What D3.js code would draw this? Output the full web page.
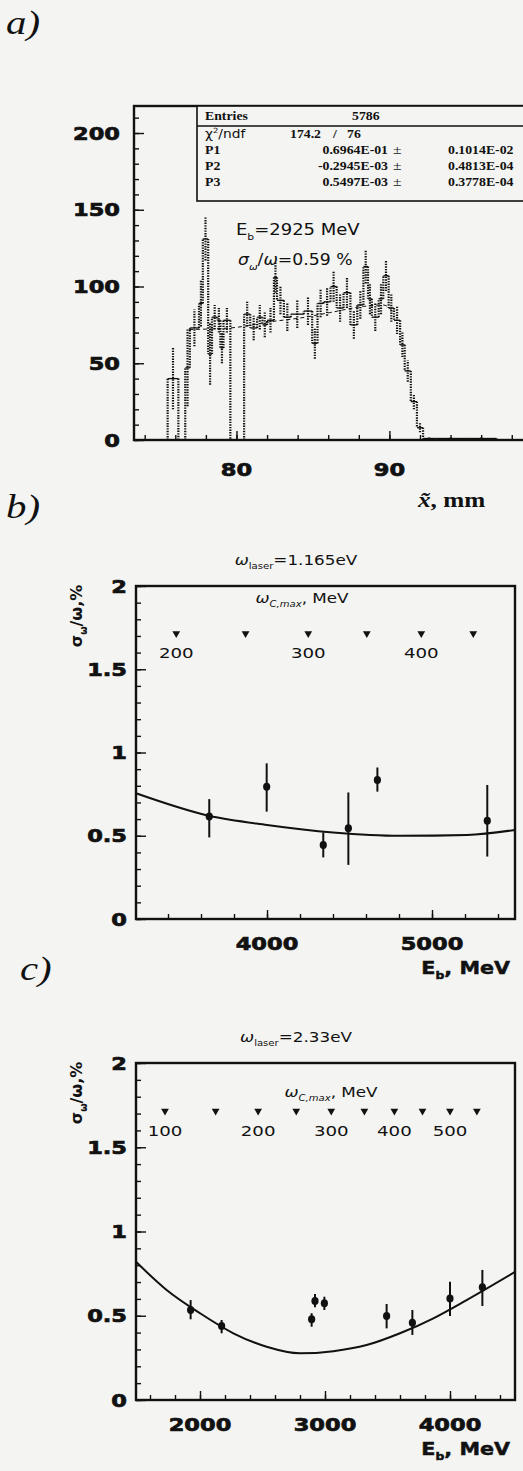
<!DOCTYPE html>
<html>
<head>
<meta charset="utf-8">
<script src="https://cdn.jsdelivr.net/npm/d3@7"></script>
<style>
  body { margin: 0; background: #f4f4f2; }
</style>
</head>
<body>
<div id="chart"></div>
<script>
// ---- panel a: x~ distribution of scattered photons ----
const histEdges = [75.5, 76.2, 76.65, 76.95, 77.55, 77.8, 78.15, 78.4, 78.75, 78.95, 79.15, 79.6,
  80.5, 80.9, 81.35, 81.7, 82.0, 82.45, 82.65, 83.1, 83.55, 84.4, 84.95, 85.3, 85.7, 86.15,
  86.55, 87.0, 87.45, 87.9, 88.3, 88.6, 88.85, 89.3, 89.6, 89.95, 90.3, 90.7, 91.0, 91.4,
  91.8, 92.2, 93, 95, 97, 98.2];
const histCounts = [40, 0, 47, 73, 89, 131, 56, 80, 78, 60, 78, 0, 82, 73, 80, 75, 78, 106, 91, 80,
  82, 84, 63, 89, 90, 100, 86, 96, 75, 88, 113, 92, 80, 92, 107, 86, 78, 62, 45, 25, 8, 1, 1, 1, 0];
const histErrors = [20, 0, 25, 12, 15, 14, 20, 8, 8, 10, 8, 0, 8, 8, 8, 8, 8, 10, 9, 9,
  9, 9, 10, 9, 9, 10, 9, 10, 9, 9, 11, 10, 9, 10, 10, 9, 9, 8, 7, 5, 3, 1, 1, 1, 0];
const fitA = [[76.9, 72], [79.6, 73], [82.2, 77], [84.5, 80], [86.1, 83], [88.3, 87], [89.6, 88], [90.2, 84]];
const xTicksA = [80, 90];
const yTicksA = [0, 50, 100, 150, 200];
const statsRows = [
  ["P1", "0.6964E-01", "0.1014E-02"],
  ["P2", "-0.2945E-03", "0.4813E-04"],
  ["P3", "0.5497E-03", "0.3778E-04"]
];

// ---- panel b: omega_laser = 1.165 eV ----
const ebB = [3650, 3998, 4341, 4493, 4669, 5335];
const sigB = [0.615, 0.795, 0.445, 0.545, 0.835, 0.59];
const loB = [0.49, 0.645, 0.37, 0.325, 0.765, 0.375];
const hiB = [0.72, 0.935, 0.52, 0.76, 0.91, 0.805];
const curveB = [[3206, 0.755], [3648, 0.62], [4000, 0.565], [4400, 0.52], [4806, 0.50], [5212, 0.505], [5503, 0.535]];
const wmaxB = [3450, 3870, 4250, 4605, 4935, 5250];
const wmaxLabelsB = ["200", "", "300", "", "400", ""];
const xTicksB = [4000, 5000];

// ---- panel c: omega_laser = 2.33 eV ----
const ebC = [1925, 2173, 2893, 2920, 2995, 3493, 3699, 4000, 4259];
const sigC = [0.534, 0.439, 0.479, 0.588, 0.574, 0.498, 0.459, 0.603, 0.669];
const loC = [0.479, 0.396, 0.435, 0.55, 0.534, 0.425, 0.386, 0.498, 0.558];
const hiC = [0.593, 0.475, 0.515, 0.629, 0.613, 0.57, 0.534, 0.702, 0.772];
const curveC = [[1488, 0.82], [1733, 0.653], [2000, 0.515], [2267, 0.396], [2533, 0.316], [2800, 0.277],
  [3067, 0.29], [3333, 0.326], [3600, 0.396], [3867, 0.485], [4133, 0.593], [4520, 0.76]];
const wmaxC = [1720, 2125, 2465, 2770, 3050, 3315, 3555, 3780, 4000, 4215];
const wmaxLabelsC = ["100", "", "200", "", "300", "", "400", "", "500", ""];
const xTicksC = [2000, 3000, 4000];

const yTicksRes = [0, 0.5, 1, 1.5, 2];
const yTickLabelsRes = ["0", "0.5", "1", "1.5", "2"];

const W = 523, H = 1471;
const ink = "#111";

const svg = d3.select("#chart").append("svg")
  .attr("width", W).attr("height", H)
  .style("background", "#f4f4f2");

// text helper: parts are [string, "sub"|"sup"|undefined, fontStyle]
function txt(g, x, y, parts, o = {}) {
  const size = o.size || 14;
  const t = g.append("text")
    .attr("transform", `translate(${x},${y})${o.rot ? ` rotate(${o.rot})` : ""} scale(${o.sx || 1},1)`)
    .attr("text-anchor", o.anchor || "start")
    .attr("font-family", o.family || "DejaVu Sans")
    .attr("font-size", size)
    .attr("font-weight", o.weight || "normal")
    .attr("font-style", o.style || "normal")
    .attr("fill", ink);
  if (o.heavy) t.attr("stroke", ink).attr("stroke-width", o.heavy);
  let shift = 0;
  (typeof parts === "string" ? [[parts]] : parts).forEach(([s, kind, st]) => {
    const target = kind === "sub" ? size * 0.3 : kind === "sup" ? -size * 0.4 : 0;
    const sp = t.append("tspan").text(s).attr("dy", target - shift);
    shift = target;
    if (kind) sp.attr("font-size", size * 0.6);
    if (st) sp.attr("font-style", st);
  });
  return t;
}

function ticks(g, scale, values, len, orient, pos) {
  const axis = (orient === "bottom" ? d3.axisBottom(scale) : d3.axisLeft(scale))
    .tickValues(values).tickSize(-len).tickFormat("");
  g.append("g")
    .attr("transform", orient === "bottom" ? `translate(0,${pos})` : `translate(${pos},0)`)
    .call(axis)
    .call(a => a.select(".domain").remove())
    .call(a => a.selectAll("line").attr("stroke", ink).attr("stroke-width", 1.4));
}

function frame(g, x0, y0, x1, y1) {
  g.append("rect")
    .attr("x", x0).attr("y", y0).attr("width", x1 - x0).attr("height", y1 - y0)
    .attr("fill", "none").attr("stroke", ink).attr("stroke-width", 2.4);
}

const tickFont = { weight: "bold", size: 18, sx: 1.25, heavy: 0.7 };

// ================= panel a =================
{
  const g = svg.append("g");
  const x = d3.scaleLinear().domain([73.3, 98.8]).range([134, 524]);
  const y = d3.scaleLinear().domain([0, 217.6]).range([440, 106]);

  txt(g, 6, 34, "a)", { family: "Liberation Serif", style: "italic", size: 34, sx: 1.2 });

  ticks(g, x, d3.range(74, 99, 2), 5, "bottom", y(0));
  ticks(g, x, xTicksA, 9, "bottom", y(0));
  ticks(g, y, d3.range(0, 211, 10), 5, "left", x.range()[0]);
  ticks(g, y, yTicksA, 10, "left", x.range()[0]);

  // histogram: solid horizontals, dotted heavy verticals
  const n = histCounts.length;
  const horiz = [], vert = [];
  let prev = 0;
  for (let i = 0; i < n; i++) {
    vert.push([histEdges[i], prev, histCounts[i]]);
    horiz.push([histEdges[i], histEdges[i + 1], histCounts[i]]);
    prev = histCounts[i];
  }
  vert.push([histEdges[n], prev, 0]);

  g.append("g").selectAll("line").data(horiz).join("line")
    .attr("x1", d => x(d[0])).attr("x2", d => x(d[1]))
    .attr("y1", d => y(d[2])).attr("y2", d => y(d[2]))
    .attr("stroke", ink).attr("stroke-width", 1.3);
  g.append("g").selectAll("line").data(vert).join("line")
    .attr("x1", d => x(d[0])).attr("x2", d => x(d[0]))
    .attr("y1", d => y(d[1])).attr("y2", d => y(d[2]))
    .attr("stroke", ink).attr("stroke-width", 2.2).attr("stroke-dasharray", "1.4,1.2");
  g.append("g").selectAll("line").data(histCounts.map((c, i) => i)).join("line")
    .attr("x1", i => x((histEdges[i] + histEdges[i + 1]) / 2))
    .attr("x2", i => x((histEdges[i] + histEdges[i + 1]) / 2))
    .attr("y1", i => y(Math.max(0, histCounts[i] - histErrors[i])))
    .attr("y2", i => y(histCounts[i] + histErrors[i]))
    .attr("stroke", ink).attr("stroke-width", 2.2).attr("stroke-dasharray", "1.4,1.2");

  g.append("path")
    .attr("d", d3.line().x(d => x(d[0])).y(d => y(d[1])).curve(d3.curveMonotoneX)(fitA))
    .attr("fill", "none").attr("stroke", ink).attr("stroke-width", 1)
    .attr("stroke-dasharray", "4,3");

  frame(g, 134, 106, 530, 440);

  // statistics box
  const bx = 197, by0 = 106, by1 = 201;
  g.append("rect").attr("x", bx).attr("y", by0).attr("width", 340).attr("height", by1 - by0)
    .attr("fill", "#f4f4f2").attr("stroke", ink).attr("stroke-width", 1.6);
  g.append("line").attr("x1", bx).attr("x2", W).attr("y1", 126).attr("y2", 126)
    .attr("stroke", ink).attr("stroke-width", 1.4);
  const sb = { family: "Liberation Serif", weight: "bold", size: 11.5, sx: 1.2 };
  txt(g, 205, 120, "Entries", sb);
  txt(g, 352, 120, "5786", sb);
  txt(g, 205, 138, [["χ"], ["2", "sup"], ["/ndf"]], { size: 12, sx: 1.15 });
  txt(g, 290, 138, "174.2", sb);
  txt(g, 333, 138, "/", sb);
  txt(g, 347, 138, "76", sb);
  statsRows.forEach((r, i) => {
    const yy = 154 + i * 16;
    txt(g, 205, yy, r[0], sb);
    txt(g, 388, yy, r[1], { ...sb, anchor: "end" });
    txt(g, 393, yy, "±", { ...sb, weight: "normal", size: 13 });
    txt(g, 448, yy, r[2], sb);
  });

  txt(g, 236, 235, [["E"], ["b", "sub"], ["=2925 MeV"]], { size: 15, sx: 1.2 });
  txt(g, 238, 265, [["σ", null, "italic"], ["ω", "sub", "italic"], ["/"], ["ω", null, "italic"], ["=0.59 %"]], { size: 15, sx: 1.15 });

  yTicksA.forEach(v => txt(g, 120, y(v) + 6.5, String(v), { ...tickFont, anchor: "end" }));
  xTicksA.forEach(v => txt(g, x(v), 476, String(v), { ...tickFont, anchor: "middle" }));
  txt(g, 418, 507, [["x̃", null, "italic"], [", mm"]], { family: "Liberation Serif", weight: "bold", size: 21, sx: 1.2 });
}

// ================= panels b and c =================
function resolutionPanel(cfg) {
  const g = svg.append("g");
  const x = d3.scaleLinear().domain(cfg.xDomain).range([136, 515]);
  const y = d3.scaleLinear().domain([0, 2]).range([cfg.bottom, cfg.top]);

  txt(g, cfg.letterX, cfg.letterY, cfg.letter, { family: "Liberation Serif", style: "italic", size: 34, sx: 1.2 });
  txt(g, 296, cfg.top - 21, [["ω", null, "italic"], ["laser", "sub"], ["=" + cfg.laser]], { size: 14, sx: 1.2, anchor: "middle" });

  const minor = d3.range(Math.ceil(cfg.xDomain[0] / 200) * 200, cfg.xDomain[1], 200);
  ticks(g, x, minor, 5, "bottom", cfg.bottom);
  ticks(g, x, cfg.xTicks, 9, "bottom", cfg.bottom);
  ticks(g, y, d3.range(0, 2.01, 0.1), 5, "left", 136);
  ticks(g, y, yTicksRes, 10, "left", 136);

  // fit curve
  g.append("path")
    .attr("d", d3.line().x(d => x(d[0])).y(d => y(d[1])).curve(d3.curveMonotoneX)(cfg.curve))
    .attr("fill", "none").attr("stroke", ink).attr("stroke-width", 2);

  // points with error bars
  g.append("g").selectAll("line").data(cfg.eb).join("line")
    .attr("x1", d => x(d)).attr("x2", d => x(d))
    .attr("y1", (d, i) => y(cfg.lo[i])).attr("y2", (d, i) => y(cfg.hi[i]))
    .attr("stroke", ink).attr("stroke-width", 2);
  g.append("g").selectAll("ellipse").data(cfg.eb).join("ellipse")
    .attr("cx", d => x(d)).attr("cy", (d, i) => y(cfg.sig[i]))
    .attr("rx", 3.6).attr("ry", 4).attr("fill", ink);

  // omega_C,max markers
  txt(g, cfg.wTitleX, y(cfg.wTitleY), [["ω", null, "italic"], ["C,max", "sub", "italic"], [", MeV"]], { size: 14, sx: 1.2, anchor: "middle" });
  g.append("g").selectAll("path").data(cfg.wmax).join("path")
    .attr("d", d3.symbol(d3.symbolTriangle, 26))
    .attr("transform", d => `translate(${x(d)},${y(1.715)}) rotate(180)`)
    .attr("fill", ink);
  cfg.wmax.forEach((d, i) => {
    if (cfg.wLabels[i]) txt(g, x(d), y(1.565), cfg.wLabels[i], { size: 14, sx: 1.3, anchor: "middle" });
  });

  frame(g, 136, cfg.top, 515, cfg.bottom);

  yTicksRes.forEach((v, i) => txt(g, 127, y(v) + 6.5, yTickLabelsRes[i], { ...tickFont, anchor: "end" }));
  cfg.xTicks.forEach(v => txt(g, x(v), cfg.bottom + 31, String(v), { ...tickFont, anchor: "middle" }));
  txt(g, 510, cfg.bottom + 55, [["E"], ["b", "sub"], [", MeV"]], { weight: "bold", size: 18, sx: 1.15, anchor: "end", heavy: 0.5 });
  txt(g, 82, cfg.top + 30, [["σ"], ["ω", "sub"], ["/ω,%"]], { weight: "bold", size: 16, rot: -90, anchor: "middle" });
}

resolutionPanel({
  letter: "b)", letterX: 6, letterY: 518, laser: "1.165eV",
  top: 586, bottom: 919, xDomain: [3206, 5503], xTicks: xTicksB,
  eb: ebB, sig: sigB, lo: loB, hi: hiB, curve: curveB,
  wmax: wmaxB, wLabels: wmaxLabelsB, wTitleX: 302, wTitleY: 1.9
});

resolutionPanel({
  letter: "c)", letterX: 20, letterY: 980, laser: "2.33eV",
  top: 1063, bottom: 1400, xDomain: [1488, 4520], xTicks: xTicksC,
  eb: ebC, sig: sigC, lo: loC, hi: hiC, curve: curveC,
  wmax: wmaxC, wLabels: wmaxLabelsC, wTitleX: 331, wTitleY: 1.8
});
</script>
</body>
</html>
